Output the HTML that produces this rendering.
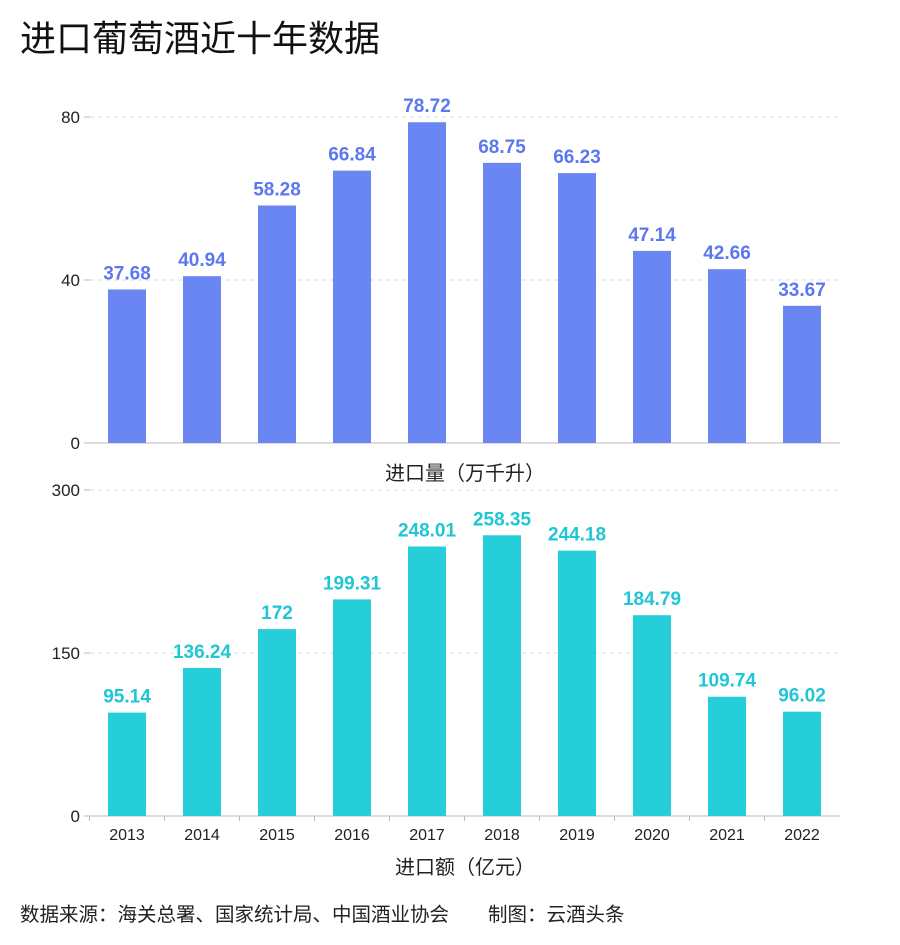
<!DOCTYPE html>
<html><head><meta charset="utf-8"><style>
body{margin:0;background:#fff;width:900px;height:940px;overflow:hidden;font-family:"Liberation Sans","Noto Sans CJK SC",sans-serif}
</style></head><body>
<svg width="900" height="940" xmlns="http://www.w3.org/2000/svg" font-family="'Liberation Sans','Noto Sans CJK SC',sans-serif">
<text x="20" y="51" font-size="36" fill="#111">进口葡萄酒近十年数据</text>
<g id="top"></g><g id="bot"></g>
<text x="465" y="480" font-size="20" fill="#222" text-anchor="middle">进口量（万千升）</text>
<text x="465" y="874" font-size="20" fill="#222" text-anchor="middle">进口额（亿元）</text>
<text x="20" y="921" font-size="19.5" fill="#222">数据来源：海关总署、国家统计局、中国酒业协会　　制图：云酒头条</text>
</svg>
<script>
const years=['2013','2014','2015','2016','2017','2018','2019','2020','2021','2022'];
const volume=[37.68,40.94,58.28,66.84,78.72,68.75,66.23,47.14,42.66,33.67];
const volumeLabels=['37.68','40.94','58.28','66.84','78.72','68.75','66.23','47.14','42.66','33.67'];
const volumeTicks=[0,40,80];
const value=[95.14,136.24,172,199.31,248.01,258.35,244.18,184.79,109.74,96.02];
const valueLabels=['95.14','136.24','172','199.31','248.01','258.35','244.18','184.79','109.74','96.02'];
const valueTicks=[0,150,300];
const NS='http://www.w3.org/2000/svg';
function mk(p,t,a){const e=document.createElementNS(NS,t);for(const k in a)e.setAttribute(k,a[k]);p.appendChild(e);return e;}
function draw(g,vals,labs,ticks,max,y0,y1,col,lcol,showX,pre){
  const ys=v=>y0-(v/max)*(y0-y1);
  const xs=i=>127+i*75;
  ticks.forEach(t=>{
    const y=ys(t);
    if(t>0){const l=mk(g,'line',{x1:90,x2:840,y1:y,y2:y,stroke:'#ddd','stroke-dasharray':'4,4'});
    
    }
    const tk=mk(g,'line',{x1:84,x2:90,y1:y,y2:y,stroke:'#bbb'});
    
    
    const tx=mk(g,'text',{x:80,y:y+6,'font-size':17,'text-anchor':'end',fill:'#222'});tx.textContent=t;
    
    
  });
  const ax=mk(g,'line',{x1:90,x2:840,y1:y0,y2:y0,stroke:'#bbb'});
  
  
  vals.forEach((v,i)=>{
    const r=mk(g,'rect',{x:xs(i)-19,y:ys(v),width:38,height:y0-ys(v),fill:col});
    
    
    const t=mk(g,'text',{x:xs(i),y:ys(v)-10,'font-size':19,'font-weight':'bold','text-anchor':'middle',fill:lcol});t.textContent=labs[i];
    
    
    if(showX){
      const tk=mk(g,'line',{x1:xs(i)-37.5,x2:xs(i)-37.5,y1:y0,y2:y0+5,stroke:'#bbb'});
      
      
      const x=mk(g,'text',{x:xs(i),y:y0+24,'font-size':16,'text-anchor':'middle',fill:'#222'});x.textContent=years[i];
      
      
    }
  });
}
draw(document.getElementById('top'),volume,volumeLabels,volumeTicks,80,443,117,'#6a86f2','#5b78ef',false,'volume');
draw(document.getElementById('bot'),value,valueLabels,valueTicks,300,816,490,'#26ced9','#1fc6d3',true,'value');
</script>
</body></html>
